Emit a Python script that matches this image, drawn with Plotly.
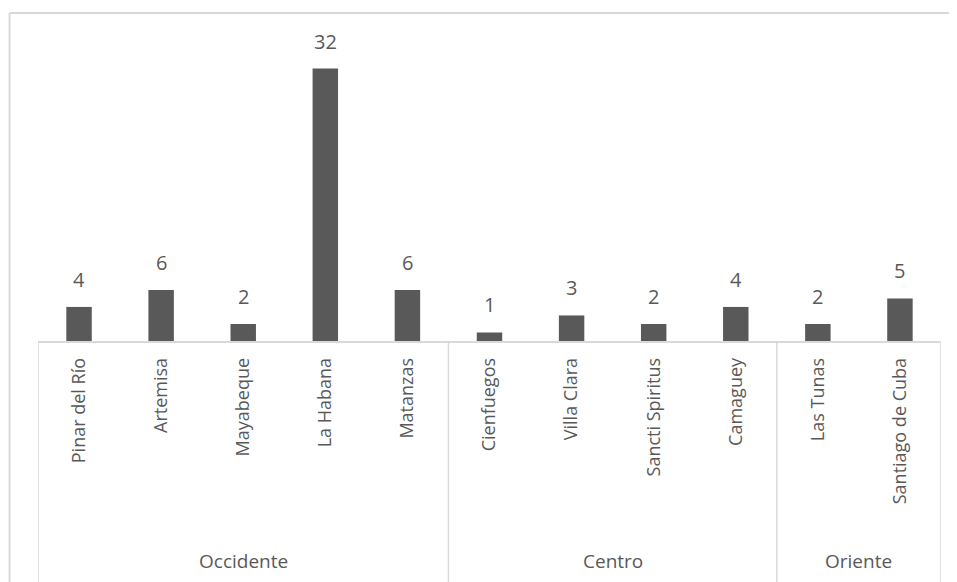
import plotly.graph_objects as go

# Data: provinces grouped by region
regions = ["Occidente", "Centro", "Oriente"]
region_sizes = [5, 4, 2]
provinces = ["Pinar del Río", "Artemisa", "Mayabeque", "La Habana", "Matanzas",
             "Cienfuegos", "Villa Clara", "Sancti Spiritus", "Camaguey",
             "Las Tunas", "Santiago de Cuba"]
values = [4, 6, 2, 32, 6, 1, 3, 2, 4, 2, 5]

text_color = "#595959"
line_color = "#d9d9d9"
font_family = "Open Sans, Noto Sans, sans-serif"

fig = go.Figure()

fig.add_trace(go.Bar(
    x=list(range(len(provinces))),
    y=values,
    marker=dict(color="#595959", line=dict(width=0)),
    hoverinfo="x+y",
))

# Data labels above the bars
for i, v in enumerate(values):
    fig.add_annotation(
        x=i, y=v, text=str(v), showarrow=False,
        yanchor="bottom", yshift=12,
        font=dict(size=20, color=text_color, family=font_family),
    )

# Group labels and separators (multi-level category axis look)
y_bottom = -0.81
start = 0
fig.add_shape(type="line", xref="x", yref="paper", x0=-0.5, x1=-0.5,
              y0=0, y1=y_bottom, line=dict(color=line_color, width=1.5))
for name, size in zip(regions, region_sizes):
    end = start + size
    fig.add_annotation(
        x=(start + end - 1) / 2, y=-0.738, xref="x", yref="paper",
        text=name, showarrow=False, yanchor="middle",
        font=dict(size=19, color=text_color, family=font_family),
    )
    fig.add_shape(type="line", xref="x", yref="paper", x0=end - 0.5, x1=end - 0.5,
                  y0=0, y1=y_bottom, line=dict(color=line_color, width=1.5))
    start = end

# Chart area border (top and left edges visible)
fig.add_shape(type="line", xref="paper", yref="paper", x0=-0.0315, x1=1.2,
              y0=1.101, y1=1.101, line=dict(color=line_color, width=2))
fig.add_shape(type="line", xref="paper", yref="paper", x0=-0.0315, x1=-0.0315,
              y0=1.101, y1=-1.0, line=dict(color=line_color, width=2))

fig.update_layout(
    width=957, height=582,
    margin=dict(l=30, r=24, t=35, b=249),
    paper_bgcolor="white",
    plot_bgcolor="white",
    bargap=0.69,
    showlegend=False,
    font=dict(family=font_family, color=text_color, size=18),
    xaxis=dict(
        tickmode="array",
        tickvals=list(range(len(provinces))),
        ticktext=provinces,
        tickangle=-90,
        range=[-0.5, len(provinces) - 0.5],
        showline=True, linecolor=line_color, linewidth=1.5,
        showgrid=False, zeroline=False, ticks="",
        ticklabelstandoff=8,
        tickfont=dict(size=18, color=text_color),
    ),
    yaxis=dict(
        range=[0, 35],
        visible=False,
        showgrid=False, zeroline=False,
    ),
)

fig.write_html("out.html")
